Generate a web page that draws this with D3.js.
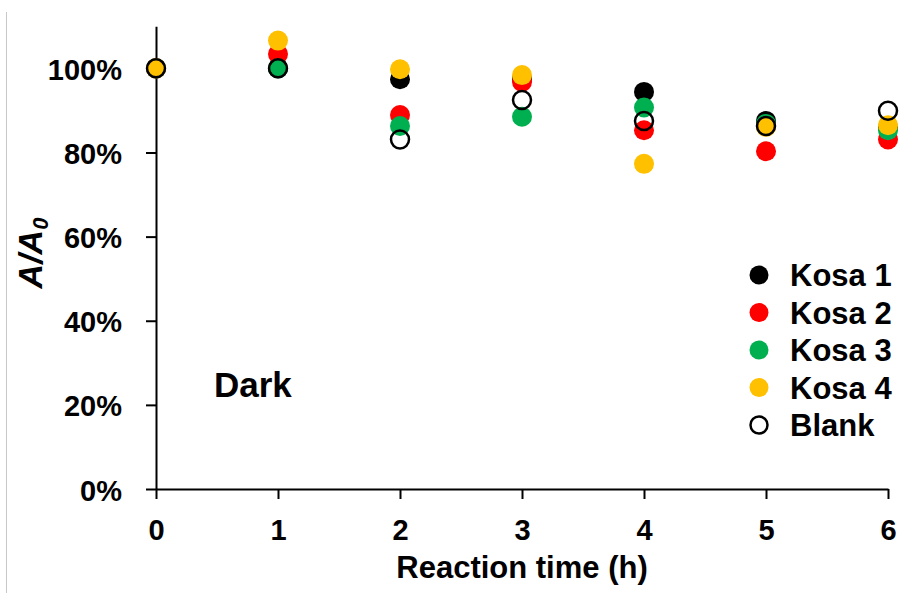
<!DOCTYPE html>
<html>
<head>
<meta charset="utf-8">
<script src="https://cdn.jsdelivr.net/npm/d3@7"></script>
<style>
  html, body { margin: 0; padding: 0; background: #fff; }
  svg { display: block; }
  text { font-family: Arial, "Liberation Sans", sans-serif; font-weight: bold; fill: #000; }
</style>
</head>
<body>
<svg id="chart" width="902" height="593"></svg>
<script>
// ---- data ----
const times = [0, 1, 2, 3, 4, 5, 6];
const xTickLabels = ["0", "1", "2", "3", "4", "5", "6"];
const yTickValues = [0, 0.2, 0.4, 0.6, 0.8, 1.0];
const kosa1 = [1.000, 1.000, 0.974, 0.975, 0.944, 0.875, 0.860];
const kosa2 = [1.000, 1.034, 0.889, 0.968, 0.853, 0.803, 0.831];
const kosa3 = [1.000, 1.000, 0.863, 0.885, 0.907, 0.868, 0.853];
const kosa4 = [1.000, 1.066, 0.998, 0.984, 0.773, 0.861, 0.865];
const blank = [1.000, 1.000, 0.831, 0.925, 0.875, 0.863, 0.899];
const seriesNames = ["Kosa 1", "Kosa 2", "Kosa 3", "Kosa 4", "Blank"];
const seriesValues = [kosa1, kosa2, kosa3, kosa4, blank];
const seriesFill = ["#000000", "#FF0000", "#00B050", "#FFC000", "none"];
const seriesStroke = ["none", "none", "none", "none", "#000000"];

// ---- layout ----
const svg = d3.select("#chart");
const x = d3.scaleLinear().domain([0, 6]).range([156, 888]);
const y = d3.scaleLinear().domain([0, 1.1]).range([489, 26.3]);

// thin grey border line at left
svg.append("line").attr("x1", 6.5).attr("x2", 6.5).attr("y1", 12).attr("y2", 593)
  .attr("stroke", "#c8c8c8").attr("stroke-width", 1);

// x axis
const xAxis = d3.axisBottom(x).tickValues(times).tickFormat((d, i) => xTickLabels[i])
  .tickSizeOuter(0).tickSizeInner(10).tickPadding(20);
const gx = svg.append("g").attr("transform", `translate(0,${y(0)})`).call(xAxis);
gx.select(".domain").attr("stroke", "#000").attr("stroke-width", 2);
gx.selectAll(".tick line").attr("stroke", "#000").attr("stroke-width", 2);
gx.selectAll(".tick text").attr("font-size", 29).attr("font-family", "Arial, 'Liberation Sans', sans-serif")
  .attr("font-weight", "bold").attr("fill", "#000").attr("dy", null).attr("y", 51);

// y axis
const yAxis = d3.axisLeft(y).tickValues(yTickValues).tickFormat(d3.format(".0%"))
  .tickSizeOuter(0).tickSizeInner(10).tickPadding(24);
const gy = svg.append("g").attr("transform", `translate(${x(0)},0)`).call(yAxis);
gy.select(".domain").attr("stroke", "#000").attr("stroke-width", 2);
gy.selectAll(".tick line").attr("stroke", "#000").attr("stroke-width", 2);
gy.selectAll(".tick text").attr("font-size", 29).attr("font-family", "Arial, 'Liberation Sans', sans-serif")
  .attr("font-weight", "bold").attr("fill", "#000").attr("dy", null).attr("y", 11).attr("x", -34);

// points
seriesValues.forEach((vals, si) => {
  svg.append("g").selectAll("circle").data(vals).join("circle")
    .attr("cx", (d, i) => x(times[i]))
    .attr("cy", d => y(d))
    .attr("r", seriesStroke[si] === "none" ? 10 : 9)
    .attr("fill", seriesFill[si])
    .attr("stroke", seriesStroke[si])
    .attr("stroke-width", 2.5);
});

// axis titles
svg.append("text").attr("x", 522).attr("y", 578).attr("text-anchor", "middle")
  .attr("font-size", 31).text("Reaction time (h)");

const yt = svg.append("text").attr("transform", "translate(42,253) rotate(-90)")
  .attr("text-anchor", "middle").attr("font-size", 34).attr("font-style", "italic");
yt.append("tspan").text("A/A");
yt.append("tspan").attr("font-size", 22).attr("dy", 6).text("0");

// Dark label
svg.append("text").attr("x", 214).attr("y", 397).attr("font-size", 35).text("Dark");

// legend
const legendY = d3.scaleLinear().domain([0, 4]).range([275, 425]);
const lg = svg.append("g");
seriesNames.forEach((name, i) => {
  lg.append("circle").attr("cx", 759).attr("cy", legendY(i))
    .attr("r", seriesStroke[i] === "none" ? 9.5 : 8.5)
    .attr("fill", seriesFill[i] === "none" ? "#FFFFFF" : seriesFill[i])
    .attr("stroke", seriesStroke[i]).attr("stroke-width", 2.5);
  lg.append("text").attr("x", 790).attr("y", legendY(i) + 11).attr("font-size", 31).text(name);
});
</script>
</body>
</html>
